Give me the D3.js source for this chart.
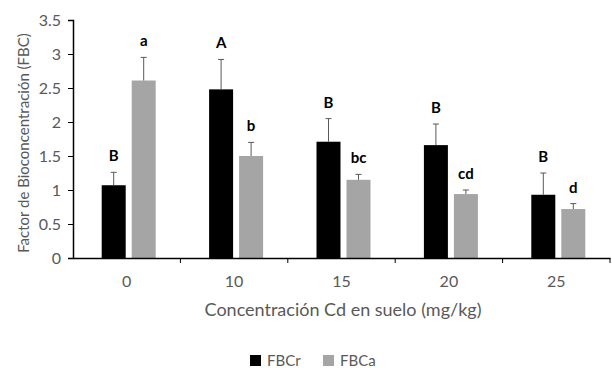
<!DOCTYPE html>
<html>
<head>
<meta charset="utf-8">
<script src="https://cdnjs.cloudflare.com/ajax/libs/d3/7.8.5/d3.min.js"></script>
<style>
  body { margin: 0; background: #fff; }
  text { font-family: "Lato", "Open Sans", sans-serif; }
</style>
</head>
<body>
<svg id="chart" width="612" height="368"></svg>
<script>
// data
var categories = ["0", "10", "15", "20", "25"];
var fbcrValues = [1.07, 2.48, 1.71, 1.66, 0.93];
var fbcrErrors = [0.19, 0.44, 0.34, 0.31, 0.32];
var fbcrLetters = ["B", "A", "B", "B", "B"];
var fbcaValues = [2.61, 1.50, 1.15, 0.94, 0.72];
var fbcaErrors = [0.34, 0.20, 0.08, 0.06, 0.08];
var fbcaLetters = ["a", "b", "bc", "cd", "d"];
var yTicks = [0, 0.5, 1, 1.5, 2, 2.5, 3, 3.5];

var series = [
  {name: "FBCr", color: "#000000", values: fbcrValues, errors: fbcrErrors, letters: fbcrLetters},
  {name: "FBCa", color: "#a5a5a5", values: fbcaValues, errors: fbcaErrors, letters: fbcaLetters}
];

var AXIS_GREY = "#595959";
var margin = {left: 73, right: 2, top: 20, bottom: 110};
var svg = d3.select("#chart");
var width = 612 - margin.left - margin.right;
var height = 368 - margin.top - margin.bottom;

var g = svg.append("g").attr("transform", "translate(" + margin.left + "," + margin.top + ")");

var x = d3.scaleBand().domain(categories).range([0, width]).paddingInner(0).paddingOuter(0);
var y = d3.scaleLinear().domain([0, 3.5]).range([height, 0]);
var BAR_W = 24, BAR_GAP = 6;

// bars, error bars, letters
series.forEach(function(s, si){
  var off = (si === 0) ? -(BAR_W + BAR_GAP / 2) : BAR_GAP / 2;
  var layer = g.append("g").attr("class", "series_" + s.name);
  categories.forEach(function(c, i){
    var cx = x(c) + x.bandwidth() / 2 + 2 + off;
    var v = s.values[i], e = s.errors[i];
    layer.append("rect")
      .attr("x", cx)
      .attr("y", y(v))
      .attr("width", BAR_W)
      .attr("height", y(0) - y(v))
      .style("fill", s.color);
    var mid = cx + BAR_W / 2;
    layer.append("line")
      .attr("x1", mid).attr("x2", mid)
      .attr("y1", y(v)).attr("y2", y(v + e))
      .style("stroke", AXIS_GREY).style("stroke-width", 1);
    layer.append("line")
      .attr("x1", mid - 3).attr("x2", mid + 3)
      .attr("y1", y(v + e)).attr("y2", y(v + e))
      .style("stroke", AXIS_GREY).style("stroke-width", 1);
    layer.append("text")
      .text(s.letters[i])
      .attr("x", mid)
      .attr("y", y(v + e) - 11)
      .style("text-anchor", "middle")
      .style("font-weight", "bold")
      .style("font-size", "15px")
      .style("fill", "#000");
  });
});

// y axis
var yAxis = g.append("g").call(d3.axisLeft(y).tickValues(yTicks).tickSize(5).tickPadding(7)
  .tickFormat(function(d){ return String(d); }));
yAxis.select(".domain").style("stroke", "#000").style("stroke-width", 1.5);
yAxis.selectAll(".tick line").style("stroke", "#000");
yAxis.selectAll("text").style("fill", AXIS_GREY).style("font-size", "16px")
  .style("font-family", "Lato, sans-serif");

// x axis: ticks between categories
var xAxis = g.append("g").attr("transform", "translate(0," + height + ")")
  .call(d3.axisBottom(x).tickSize(0).tickPadding(18));
xAxis.select(".domain").style("stroke", "#000").style("stroke-width", 1.5);
xAxis.selectAll("text").style("fill", AXIS_GREY).style("font-size", "16px")
  .style("font-family", "Lato, sans-serif");
xAxis.selectAll(".sep").data(categories).enter().append("line")
  .attr("x1", function(d){ return x(d) + x.bandwidth(); })
  .attr("x2", function(d){ return x(d) + x.bandwidth(); })
  .attr("y1", 0).attr("y2", 5)
  .style("stroke", "#000");

// axis titles
svg.append("text")
  .text("Concentración Cd en suelo (mg/kg)")
  .attr("x", 343).attr("y", 316)
  .style("text-anchor", "middle")
  .style("font-size", "18px")
  .style("fill", AXIS_GREY);
svg.append("text")
  .text("Factor de Bioconcentración (FBC)")
  .attr("transform", "translate(29,143) rotate(-90)")
  .style("text-anchor", "middle")
  .style("font-size", "15px")
  .style("fill", AXIS_GREY);

// legend
var legend = svg.append("g").attr("class", "legend");
var legendX = [250, 323];
series.forEach(function(s, si){
  legend.append("rect")
    .attr("x", legendX[si]).attr("y", 355)
    .attr("width", 11).attr("height", 11)
    .style("fill", s.color);
  legend.append("text")
    .text(s.name)
    .attr("x", legendX[si] + 17).attr("y", 366)
    .style("font-size", "15px")
    .style("fill", AXIS_GREY);
});
</script>
</body>
</html>
